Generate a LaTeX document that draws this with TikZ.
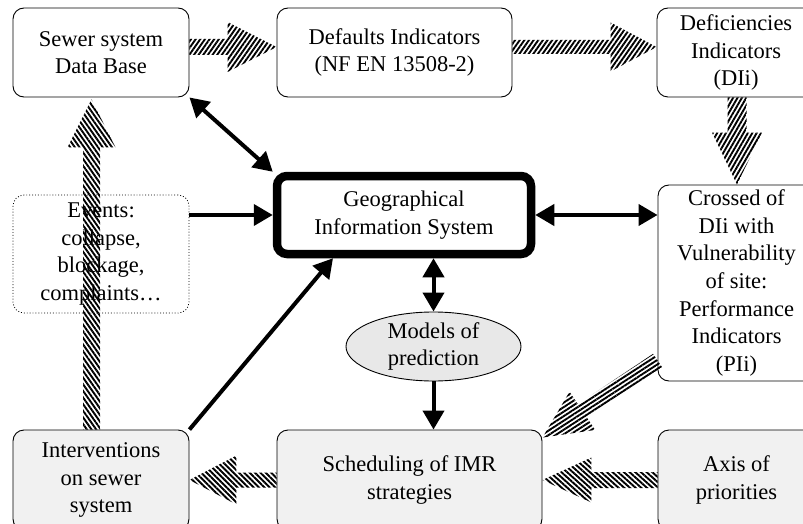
\documentclass[tikz,border=0pt]{standalone}
\usepackage{fontspec}
\setmainfont{Liberation Serif}
\usetikzlibrary{calc,arrows.meta,patterns.meta,shapes.geometric}

\tikzset{
  txtfont/.style={font=\fontsize{22.5}{27.6}\selectfont},
  box/.style={draw, line width=0.9pt, rounded corners=11pt, fill=white, align=center, txtfont, inner sep=0pt},
  gbox/.style={box, fill=gray!11},
  gisbox/.style={box, line width=8.5pt, rounded corners=10pt},
  evbox/.style={box, fill=none, dotted, line width=0.8pt},
  modelshape/.style={draw, ellipse, line width=0.9pt, fill=gray!18, inner sep=0pt},
  plain/.style={align=center, txtfont, inner sep=0pt},
  blk/.style={line width=4pt, -{Triangle[length=19pt,width=21pt]}},
  blkb/.style={line width=4pt, {Triangle[length=19pt,width=21pt]}-{Triangle[length=19pt,width=21pt]}},
}

% #1 stripe angle, #2 from, #3 to, #4 shaft half width, #5 head half width, #6 head length
\newcommand\hatcharrow[6]{%
  \coordinate (hbase) at ($(#3)!#6!(#2)$);
  \path[pattern={Lines[angle=#1,distance=3.8pt,line width=1.9pt]}, pattern color=black]
    ($(#2)!#4!90:(#3)$) -- ($(hbase)!#4!90:(#3)$) -- ($(hbase)!#5!90:(#3)$) -- (#3)
    -- ($(hbase)!#5!-90:(#3)$) -- ($(hbase)!#4!-90:(#3)$) -- ($(#2)!#4!-90:(#3)$) -- cycle;}

\begin{document}
\begin{tikzpicture}[x=1pt,y=-1pt]
\useasboundingbox (0,0) rectangle (803,524);
\clip (0,0) rectangle (803,524);
\fill[white] (0,0) rectangle (803,524);

% nodes
\node[box, minimum width=176pt, minimum height=89pt] (sewer) at (101,52.5) {Sewer system\\Data Base};
\node[box, minimum width=235pt, minimum height=89pt] (def) at (394.5,52.5) {Defaults Indicators\\(NF EN 13508-2)};
\node[box, minimum width=158pt, minimum height=89pt] (defic) at (736,52.5) {Deficiencies\\Indicators\\(DIi)};
\node[gisbox, minimum width=254pt, minimum height=78pt] (gis) at (404,215) {Geographical\\Information System};
\node[modelshape, minimum width=175pt, minimum height=69pt] (models) at (433.5,346.5) {};
\node[plain] (modelstext) at (models.center) {Models of\\prediction};
\node[box, minimum width=157pt, minimum height=196pt] (crossed) at (736.5,283) {Crossed of\\DIi with\\Vulnerability\\of site:\\Performance\\Indicators\\(PIi)};
\node[gbox, minimum width=176pt, minimum height=100pt] (interv) at (101,480) {Interventions\\on sewer\\system};
\node[gbox, minimum width=265pt, minimum height=100pt] (sched) at (409.5,480) {Scheduling of IMR\\strategies};
\node[gbox, minimum width=157pt, minimum height=100pt] (axis) at (736.5,480) {Axis of\\priorities};

% hatched block arrows
\hatcharrow{55}{[yshift=5.5pt]sewer.east}{[yshift=5.5pt]def.west}{8pt}{25pt}{49pt}
\hatcharrow{55}{[yshift=5.5pt]def.east}{[yshift=5.5pt]defic.west}{7pt}{24.5pt}{46pt}
\hatcharrow{60}{[xshift=1pt]defic.south}{[xshift=0.5pt]crossed.north}{9.5pt}{25pt}{52pt}
\hatcharrow{33}{[yshift=21pt]crossed.south west}{[yshift=-8pt]sched.north east}{8pt}{23pt}{48pt}
\hatcharrow{138}{[yshift=0pt]axis.west}{[yshift=0pt]sched.east}{8pt}{22.5pt}{49pt}
\hatcharrow{135}{[yshift=0pt]sched.west}{[yshift=0pt]interv.east}{7.5pt}{24.5pt}{47pt}
\hatcharrow{125}{[xshift=-9.5pt]interv.north}{[xshift=-9.5pt,yshift=-2pt]sewer.south}{8.5pt}{24pt}{48pt}

% events box drawn over the vertical hatched arrow
\node[evbox, minimum width=176pt, minimum height=118pt] (events) at (101,254) {Events:\\collapse,\\blockage,\\complaints…};

% black connectors
\draw[blkb] (sewer.south east) -- (gis.north west);
\draw[blk] (events.east |- gis.west) -- (gis.west);
\draw[blkb] (gis.east) -- (crossed.west |- gis.east);
\draw[blkb] (models.north |- gis.south) -- (models.north);
\draw[blk] (models.south) -- (models.south |- sched.north);
\draw[blk] (interv.north east) -- ([xshift=-71pt]gis.south);
\end{tikzpicture}
\end{document}
